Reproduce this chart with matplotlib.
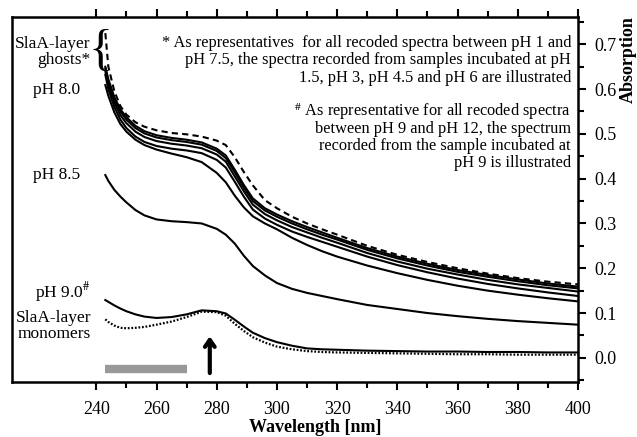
import matplotlib
matplotlib.use("Agg")
import matplotlib.pyplot as plt
from matplotlib.ticker import MultipleLocator, FixedLocator

plt.rcParams['font.family'] = ['Liberation Serif', 'DejaVu Serif']
plt.rcParams['mathtext.fontset'] = 'stix'

wl = [243, 244, 246, 248, 250, 253, 256, 260, 265, 270, 275, 280, 283, 286, 289,
      292, 296, 300, 305, 310, 315, 320, 330, 340, 350, 360, 370, 380, 390, 400]

# S-layer ghosts (pH 1.5 - 6), dashed one on top
ghost_dash = [0.725, 0.650, 0.595, 0.562, 0.543, 0.526, 0.516, 0.508, 0.502, 0.499,
              0.494, 0.485, 0.475, 0.448, 0.415, 0.385, 0.352, 0.334, 0.315, 0.300,
              0.287, 0.275, 0.250, 0.230, 0.214, 0.200, 0.188, 0.178, 0.170, 0.164]
ghost_1 = [0.650, 0.622, 0.582, 0.555, 0.537, 0.518, 0.506, 0.497, 0.491, 0.487,
           0.481, 0.467, 0.452, 0.420, 0.386, 0.356, 0.334, 0.320, 0.305, 0.292,
           0.280, 0.268, 0.245, 0.226, 0.210, 0.196, 0.185, 0.175, 0.166, 0.159]
ghost_2 = [0.646, 0.617, 0.577, 0.550, 0.532, 0.513, 0.501, 0.492, 0.486, 0.482,
           0.476, 0.462, 0.446, 0.414, 0.380, 0.350, 0.329, 0.315, 0.300, 0.287,
           0.275, 0.264, 0.241, 0.222, 0.206, 0.192, 0.181, 0.171, 0.162, 0.155]
ghost_3 = [0.640, 0.610, 0.570, 0.542, 0.524, 0.505, 0.493, 0.484, 0.478, 0.474,
           0.468, 0.454, 0.438, 0.405, 0.372, 0.342, 0.321, 0.307, 0.292, 0.280,
           0.268, 0.257, 0.234, 0.215, 0.199, 0.186, 0.174, 0.164, 0.156, 0.148]
ghost_4 = [0.632, 0.600, 0.560, 0.532, 0.513, 0.494, 0.482, 0.473, 0.467, 0.463,
           0.457, 0.442, 0.425, 0.393, 0.360, 0.331, 0.311, 0.297, 0.282, 0.270,
           0.259, 0.248, 0.226, 0.207, 0.191, 0.177, 0.165, 0.155, 0.146, 0.138]
ph80 = [0.609, 0.585, 0.548, 0.522, 0.505, 0.487, 0.475, 0.465, 0.456, 0.448,
        0.437, 0.413, 0.392, 0.362, 0.336, 0.316, 0.300, 0.287, 0.268, 0.252,
        0.238, 0.226, 0.206, 0.189, 0.174, 0.161, 0.150, 0.141, 0.133, 0.126]
ph85 = [0.408, 0.395, 0.375, 0.360, 0.347, 0.330, 0.318, 0.309, 0.305, 0.303,
        0.300, 0.288, 0.275, 0.255, 0.228, 0.205, 0.184, 0.167, 0.154, 0.145,
        0.138, 0.131, 0.118, 0.109, 0.100, 0.093, 0.087, 0.082, 0.078, 0.074]
ph90 = [0.129, 0.125, 0.117, 0.110, 0.104, 0.097, 0.092, 0.089, 0.091, 0.097,
        0.106, 0.104, 0.099, 0.085, 0.070, 0.056, 0.044, 0.035, 0.027, 0.021,
        0.019, 0.018, 0.016, 0.015, 0.014, 0.014, 0.013, 0.013, 0.012, 0.012]
monomers = [0.086, 0.080, 0.072, 0.067, 0.066, 0.067, 0.069, 0.074, 0.081, 0.091,
            0.103, 0.102, 0.094, 0.076, 0.060, 0.046, 0.034, 0.025, 0.019, 0.015,
            0.013, 0.012, 0.011, 0.010, 0.009, 0.008, 0.008, 0.007, 0.007, 0.007]

# grey bar and arrow marking the region of interest
bar_range = [243, 270]
bar_level = -0.026
arrow_wl = 277.7
arrow_from, arrow_to = -0.034, 0.048

note_ghost = ["* As representatives  for all recoded spectra between pH 1 and",
              "pH 7.5, the spectra recorded from samples incubated at pH",
              "1.5, pH 3, pH 4.5 and pH 6 are illustrated"]
note_ph9 = [r"$^{\#}$ As representative for all recoded spectra",
            "between pH 9 and pH 12, the spectrum",
            "recorded from the sample incubated at",
            "pH 9 is illustrated"]

fig = plt.figure(figsize=(6.37, 4.37), dpi=100)
ax = fig.add_axes([12 / 637, 1 - 382 / 437, 566 / 637, 365 / 437])

lw = 1.5
for s in [ghost_1, ghost_2, ghost_3, ghost_4, ph80, ph85, ph90]:
    ax.plot(wl, s, color='black', lw=lw)
ax.plot(wl, ghost_dash, color='black', lw=lw, linestyle=(0, (3, 2)))
ax.plot(wl, monomers, color='black', lw=1.6, linestyle=(0, (0.8, 0.8)))

ax.plot(bar_range, [bar_level, bar_level], color='#999999', lw=6, solid_capstyle='butt')
ax.annotate('', xy=(arrow_wl, arrow_to), xytext=(arrow_wl, arrow_from),
            arrowprops=dict(arrowstyle='->,head_length=0.5,head_width=0.35',
                            lw=3, color='black', shrinkA=0, shrinkB=0))

ax.set_xlim(212, 400)
ax.set_ylim(-0.054, 0.761)

# axes: ticks on right, bottom, top; none on left
ax.yaxis.tick_right()
ax.xaxis.set_ticks_position('both')
ax.tick_params(axis='x', which='both', direction='out', top=True, bottom=True,
               labeltop=False, labelsize=13, pad=8)
ax.tick_params(axis='y', which='both', direction='out', left=False, right=True,
               labelsize=13, pad=6)
ax.tick_params(which='major', length=6, width=1.5)
ax.tick_params(which='minor', length=4, width=1.5)
ax.set_xticks([240, 260, 280, 300, 320, 340, 360, 380, 400])
ax.xaxis.set_minor_locator(FixedLocator([250, 270, 290, 310, 330, 350, 370, 390]))
ax.set_yticks([0.0, 0.1, 0.2, 0.3, 0.4, 0.5, 0.6, 0.7])
ax.yaxis.set_minor_locator(MultipleLocator(0.05))
ax.set_yticklabels(['0.0', '0.1', '0.2', '0.3', '0.4', '0.5', '0.6', '0.7'])
for sp in ax.spines.values():
    sp.set_linewidth(1.8)

# curve labels
fs = 12.5
ax.text(238, 0.683, "SlaA-layer\nghosts*", ha='right', va='center', fontsize=fs,
        linespacing=0.95)
ax.text(241.3, 0.684, "{", ha='center', va='center', fontsize=36)
ax.text(234.7, 0.598, "pH 8.0", ha='right', va='center', fontsize=fs)
ax.text(234.7, 0.408, "pH 8.5", ha='right', va='center', fontsize=fs)
ax.text(238, 0.147, r"pH 9.0$^{\#}$", ha='right', va='center', fontsize=fs)
ax.text(238.3, 0.071, "SlaA-layer\nmonomers", ha='right', va='center', fontsize=fs,
        linespacing=0.95)

# footnotes
for y, line in zip([0.703, 0.664, 0.625], note_ghost):
    ax.text(397.7, y, line, ha='right', va='center', fontsize=11.8)
for y, line in zip([0.549, 0.511, 0.473, 0.435], note_ph9):
    ax.text(397.7, y, line, ha='right', va='center', fontsize=11.8)

fig.text(315 / 637, 1 - 428 / 437, "Wavelength [nm]", ha='center', va='center',
         fontsize=13, fontweight='bold')
fig.text(628 / 637, 1 - 60 / 437, "Absorption", ha='center', va='center',
         fontsize=13, fontweight='bold', rotation=90)

fig.savefig('out.png', dpi=100)
